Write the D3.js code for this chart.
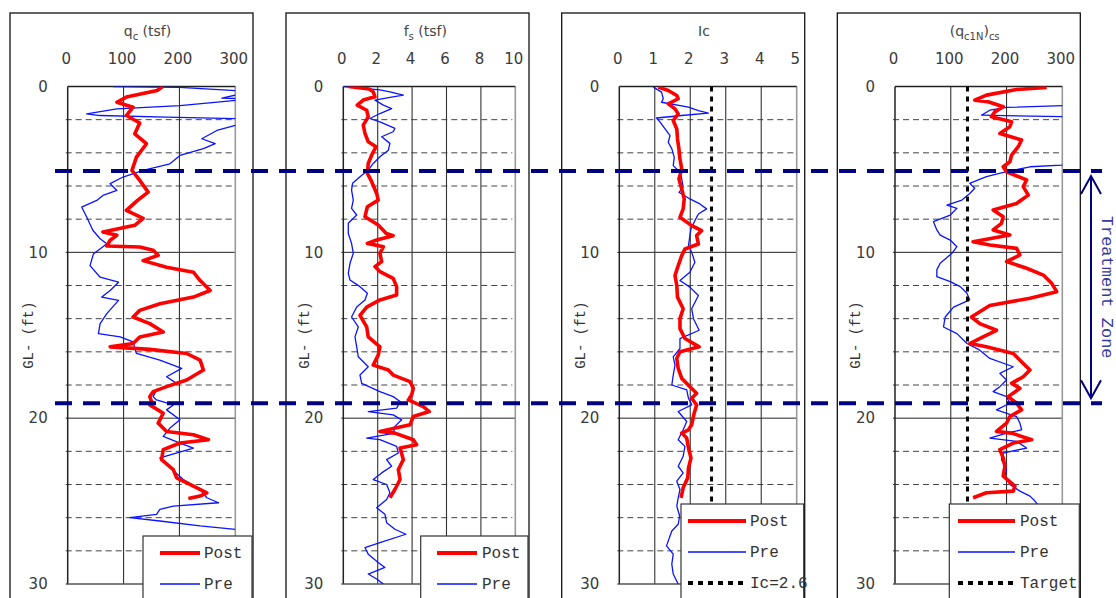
<!DOCTYPE html>
<html>
<head>
<meta charset="utf-8">
<script src="https://cdn.jsdelivr.net/npm/d3@7"></script>
<style>
  body { margin: 0; background: #fff; }
  svg { display: block; }
  .tick text { font-family: "DejaVu Sans", Verdana, sans-serif; font-size: 15px; fill: #3a3a3a; }
  .mono { font-family: "Liberation Mono", "DejaVu Sans Mono", monospace; }
</style>
</head>
<body>
<svg width="1116" height="598"></svg>
<script>
// depth ticks (ft)
const depthTicks = [0, 10, 20, 30];
const minorDepths = [2, 4, 6, 8, 12, 14, 16, 18, 22, 24, 26, 28];

// x tick labels for each panel
const qcTicks = [0, 100, 200, 300];
const fsTicks = [0, 2, 4, 6, 8, 10];
const icTicks = [0, 1, 2, 3, 4, 5];
const qc1nTicks = [0, 100, 200, 300];

// treatment zone (ft) and reference lines
const treatmentZone = [5.1, 19.1];
const icLimit = 2.6;
const targetQc1n = 130;

// [depth (ft), value]
const qcPost = [[0,170],[0.24,160],[0.64,105],[0.95,88],[1.25,117],[1.75,105],[2.2,129],[2.85,120],[3.45,141],[4.26,123],[5.06,115],[5.66,129],[6.37,144],[6.87,125],[7.47,105],[7.95,135],[8.37,120],[8.77,63],[8.97,88],[9.27,76],[9.62,70],[9.68,129],[9.88,153],[10.18,162],[10.5,135],[10.9,177],[11.2,225],[11.7,237],[12.3,255],[12.7,225],[13.1,165],[13.5,129],[13.9,117],[14.3,147],[14.8,171],[15.1,129],[15.5,117],[15.7,76],[15.85,147],[16.1,213],[16.5,237],[17.1,243],[17.7,213],[18.1,177],[18.4,153],[18.7,147],[19.0,150],[19.2,147],[19.7,171],[20.3,162],[20.8,177],[21.0,225],[21.3,252],[21.5,201],[21.9,171],[22.5,168],[23.1,189],[23.6,195],[24.1,225],[24.5,249],[24.7,237],[24.85,216]];
const qcPre = [[0,81],[0.05,200],[0.3,330],[0.7,276],[0.75,330],[1.15,201],[1.35,88],[1.65,34],[1.75,58],[1.85,177],[1.95,330],[2.35,300],[2.65,267],[3.15,240],[3.45,264],[3.75,243],[4.16,201],[4.66,183],[5.06,135],[5.46,99],[5.86,76],[6.27,88],[6.57,63],[6.87,52],[7.27,25],[7.87,34],[8.67,45],[9.18,58],[9.48,70],[10.1,46],[10.8,40],[11.5,58],[11.8,91],[12.3,76],[12.7,61],[12.9,91],[13.7,70],[14.3,58],[14.9,55],[15.1,94],[15.4,117],[16.1,123],[16.5,165],[17.0,204],[17.5,177],[17.9,195],[18.3,159],[18.7,153],[18.9,159],[19.2,189],[19.5,177],[20.1,201],[20.6,183],[21.1,171],[21.5,201],[21.8,225],[22.4,165],[22.9,180],[23.7,207],[24.3,237],[24.8,249],[25.1,270],[25.3,189],[25.5,165],[25.8,159],[26.0,111],[26.2,165],[26.5,237],[26.7,300]];

const fsPost = [[0,0.3],[0.15,1.5],[0.32,1.74],[0.62,1.84],[0.82,1.16],[1.12,0.81],[1.43,1.36],[1.83,1.45],[2.33,1.16],[2.83,1.26],[3.33,1.45],[3.63,1.9],[4.14,1.65],[4.64,1.45],[5.24,1.4],[5.74,1.65],[6.45,1.94],[6.85,2.03],[7.25,1.4],[7.85,1.26],[8.35,2.03],[8.86,2.5],[9.0,2.9],[9.26,1.94],[9.46,1.4],[9.66,2.33],[10.06,2.13],[10.56,2.23],[10.86,1.84],[11.16,2.13],[11.57,2.9],[12.07,3.1],[12.57,3.1],[12.87,2.13],[13.3,1.36],[13.8,0.97],[14.5,1.36],[15.1,1.45],[15.7,2.13],[16.2,2.03],[16.8,1.74],[17.1,2.62],[17.4,2.9],[17.8,3.88],[18.2,4.07],[18.6,3.97],[18.9,3.78],[19.3,4.65],[19.6,5.0],[19.9,4.07],[20.4,3.88],[20.8,2.13],[20.9,3.0],[21.3,4.07],[21.6,4.26],[21.8,3.3],[22.5,3.49],[23.1,3.2],[23.7,3.3],[24.3,3.0],[24.8,2.71]];
const fsPre = [[0,0.04],[0.2,2.13],[0.32,2.71],[0.52,3.49],[0.66,2.71],[0.82,1.84],[1.12,2.33],[1.33,2.81],[1.63,2.13],[1.93,1.55],[2.13,2.13],[2.53,3.0],[2.73,2.9],[3.03,2.23],[3.43,2.71],[3.84,2.62],[4.24,2.13],[4.64,1.74],[5.04,1.45],[5.44,0.97],[5.84,0.54],[6.24,0.48],[6.85,0.58],[7.35,0.48],[7.75,0.78],[8.25,0.29],[8.86,0.29],[9.46,0.48],[10.06,0.58],[10.66,0.39],[11.27,0.29],[11.67,0.39],[12.07,0.97],[12.47,1.4],[12.87,1.26],[13.3,0.78],[13.9,0.48],[14.5,0.87],[15.1,0.68],[15.7,0.78],[16.3,0.87],[16.9,1.45],[17.4,0.97],[17.9,1.07],[18.4,2.13],[18.7,2.9],[19.0,3.3],[19.4,3.1],[19.6,1.45],[19.8,2.9],[20.1,3.39],[20.6,2.9],[20.9,3.0],[21.2,1.36],[21.3,2.13],[21.7,3.1],[22.1,3.2],[22.5,2.52],[22.9,2.81],[23.3,2.23],[23.7,1.74],[24.0,2.52],[24.5,2.71],[24.9,2.52],[25.4,1.94],[25.8,2.42],[26.3,2.52],[26.7,3.0],[27.0,3.64],[27.5,2.13],[27.8,1.26],[28.2,1.45],[28.7,2.03],[29.0,2.42],[29.4,1.45],[29.7,1.94],[30,2.33]];

const icPost = [[0.04,1.1],[0.24,1.38],[0.54,1.62],[0.74,1.66],[1.05,1.38],[1.35,1.57],[1.65,1.66],[2.05,1.52],[2.56,1.62],[3.16,1.64],[3.76,1.68],[4.37,1.71],[4.97,1.76],[5.57,1.68],[6.18,1.76],[6.78,1.83],[7.38,1.8],[7.89,1.71],[8.39,2.04],[8.69,2.32],[8.99,2.18],[9.5,2.23],[9.8,1.85],[10.2,1.76],[10.8,1.66],[11.4,1.57],[12.0,1.62],[12.7,1.64],[13.4,1.8],[14.0,1.71],[14.6,1.71],[15.2,1.85],[15.7,2.25],[16.0,1.71],[16.4,1.62],[17.0,1.66],[17.6,1.76],[18.1,1.99],[18.5,2.18],[18.8,2.04],[19.2,2.18],[19.7,2.11],[20.4,2.04],[20.7,1.95],[20.9,1.76],[21.2,1.9],[21.8,1.95],[22.4,2.02],[23.0,1.95],[23.6,1.93],[24.2,1.8],[24.8,1.74]];
const icPre = [[0.04,0.96],[0.34,1.19],[0.74,1.24],[0.95,1.19],[1.25,1.95],[1.45,2.23],[1.6,2.51],[1.75,1.76],[1.9,1.05],[2.15,1.15],[2.56,1.29],[2.96,1.43],[3.36,1.38],[3.76,1.48],[4.27,1.55],[4.77,1.52],[5.17,1.71],[5.57,1.76],[6.08,1.8],[6.38,1.68],[6.78,1.99],[7.08,2.27],[7.38,2.46],[7.69,2.23],[8.09,2.13],[8.59,2.02],[8.99,1.99],[9.6,1.95],[10.0,2.04],[10.6,2.13],[11.2,1.99],[11.7,1.71],[12.1,1.99],[12.6,2.23],[13.4,2.04],[14.0,2.09],[14.7,2.25],[15.2,1.71],[15.8,1.71],[16.3,1.52],[16.8,1.57],[17.4,1.52],[18.0,1.48],[18.3,1.9],[18.8,1.95],[19.2,2.04],[19.6,1.66],[20.2,1.9],[20.7,1.8],[21.3,1.66],[21.7,1.85],[22.3,1.8],[22.9,1.66],[23.3,1.8],[23.8,1.62],[24.3,1.71],[24.8,1.66],[25.3,1.62],[25.9,1.7],[26.4,1.66],[26.8,1.48],[27.7,1.33],[28.2,1.52],[28.8,1.48],[29.4,1.52],[30,1.66]];

const qc1nPost = [[0.06,272],[0.18,218],[0.52,164],[0.82,143],[0.92,167],[1.22,194],[1.53,179],[1.83,173],[2.13,209],[2.43,206],[2.83,188],[3.23,227],[3.63,221],[4.14,209],[4.54,206],[4.84,194],[5.14,200],[5.64,236],[6.04,230],[6.55,239],[7.05,218],[7.45,176],[7.85,194],[8.25,191],[8.65,176],[8.96,206],[9.36,140],[9.56,170],[9.76,218],[10.16,224],[10.56,200],[10.96,236],[11.37,266],[11.87,281],[12.37,290],[12.77,242],[13.2,170],[13.9,137],[14.3,152],[14.7,182],[15.1,158],[15.5,134],[15.7,164],[16.1,212],[16.7,230],[17.1,242],[17.5,230],[17.9,209],[18.2,224],[18.7,203],[19.1,218],[19.5,227],[19.9,206],[20.3,200],[20.8,182],[20.9,209],[21.3,245],[21.5,212],[21.9,188],[22.4,194],[22.9,197],[23.5,194],[24.1,215],[24.4,212],[24.5,164],[24.8,140]];
const qc1nPre = [[0,330],[1.12,330],[1.26,200],[1.43,170],[1.73,155],[1.83,330],[4.4,330],[4.74,299],[4.84,242],[5.14,200],[5.44,164],[5.84,134],[6.14,143],[6.45,134],[6.85,120],[7.15,93],[7.35,111],[7.75,99],[8.15,69],[8.65,75],[8.96,81],[9.26,99],[9.66,111],[10.06,102],[10.66,81],[11.06,75],[11.47,75],[11.77,99],[12.07,117],[12.47,129],[12.87,134],[13.3,105],[13.9,90],[14.5,87],[14.9,111],[15.5,129],[15.9,152],[16.4,170],[16.9,212],[17.3,188],[17.7,200],[18.1,188],[18.4,176],[18.7,200],[19.1,206],[19.5,182],[19.9,218],[20.3,224],[20.7,227],[20.9,200],[21.2,170],[21.4,218],[21.8,236],[22.1,194],[22.5,191],[23.1,200],[23.5,197],[24.0,206],[24.4,224],[24.7,242],[25.0,251],[25.3,258]];

const svg = d3.select("svg");
const plotTop = 86.5;
const plotBottom = 584;
const frameTop = 13;
const frameWidth = 243;

const yScale = d3.scaleLinear().domain([0, 30]).range([plotTop, plotBottom]);

const panels = [
  {
    frameX: 10, plotX: 67.7, plotW: 167.6, domain: [0, 300], ticks: qcTicks,
    title: [["q", false], ["c", true], [" (tsf)", false]],
    post: qcPost, pre: qcPre,
    legend: { x: 143, y: 536, l0: 160, l1: 200, tx: 204 },
  },
  {
    frameX: 286, plotX: 343.3, plotW: 172, domain: [0, 10], ticks: fsTicks,
    title: [["f", false], ["s", true], [" (tsf)", false]],
    post: fsPost, pre: fsPre,
    legend: { x: 420.7, y: 536, l0: 437, l1: 477, tx: 482 },
  },
  {
    frameX: 561.7, plotX: 619.3, plotW: 177.4, domain: [0, 5], ticks: icTicks,
    title: [["Ic", false]],
    post: icPost, pre: icPre, refValue: icLimit, refLabel: "Ic=2.6",
    legend: { x: 681, y: 504, l0: 688, l1: 746, tx: 750 },
  },
  {
    frameX: 837.3, plotX: 895, plotW: 167.3, domain: [0, 300], ticks: qc1nTicks,
    title: [["(q", false], ["c1N", true], [")", false], ["cs", true]],
    post: qc1nPost, pre: qc1nPre, refValue: targetQc1n, refLabel: "Target",
    legend: { x: 949.3, y: 504, l0: 958, l1: 1015, tx: 1020 },
  },
];

function drawPanel(panel, index)
{
  const g = svg.append("g");
  const x = d3.scaleLinear()
    .domain(panel.domain)
    .range([panel.plotX, panel.plotX + panel.plotW]);
  const right = panel.plotX + panel.plotW;

  // outer chart frame
  g.append("rect")
    .attr("x", panel.frameX)
    .attr("y", frameTop)
    .attr("width", frameWidth)
    .attr("height", 700)
    .attr("fill", "#fff")
    .attr("stroke", "#111")
    .attr("stroke-width", 1.3);

  // title with subscripts
  const title = g.append("text")
    .attr("x", panel.plotX + panel.plotW / 2 - 4)
    .attr("y", 36)
    .attr("text-anchor", "middle")
    .attr("font-family", "DejaVu Sans, sans-serif")
    .attr("font-size", 14)
    .attr("fill", "#444");
  let shifted = false;
  panel.title.forEach(([txt, sub]) =>
  {
    const t = title.append("tspan").text(txt);
    if (sub && !shifted)
    {
      t.attr("font-size", 10).attr("dy", 4);
      shifted = true;
    } else if (!sub && shifted)
    {
      t.attr("dy", -4);
      shifted = false;
    } else if (sub)
    {
      t.attr("font-size", 10);
    }
  });

  // minor dashed depth lines
  g.selectAll(".minor")
    .data(minorDepths)
    .join("line")
    .attr("x1", panel.plotX - 2)
    .attr("x2", right - 3)
    .attr("y1", (d) => yScale(d))
    .attr("y2", (d) => yScale(d))
    .attr("stroke", "#444")
    .attr("stroke-width", 1)
    .attr("stroke-dasharray", "6,4");

  // solid depth lines
  g.selectAll(".major")
    .data([10, 20])
    .join("line")
    .attr("x1", panel.plotX - 2)
    .attr("x2", right)
    .attr("y1", (d) => yScale(d))
    .attr("y2", (d) => yScale(d))
    .attr("stroke", "#222")
    .attr("stroke-width", 1);

  // vertical grid
  g.selectAll(".vgrid")
    .data(panel.ticks.slice(1))
    .join("line")
    .attr("x1", (d) => x(d))
    .attr("x2", (d) => x(d))
    .attr("y1", plotTop)
    .attr("y2", plotBottom)
    .attr("stroke", (d, i, n) => (i === n.length - 1 ? "#999" : "#333"))
    .attr("stroke-width", (d, i, n) => (i === n.length - 1 ? 1.6 : 1.1));

  // plot borders
  g.append("line").attr("x1", panel.plotX).attr("x2", panel.plotX)
    .attr("y1", plotTop).attr("y2", plotBottom)
    .attr("stroke", "#222").attr("stroke-width", 1.5);
  g.append("line").attr("x1", panel.plotX).attr("x2", right)
    .attr("y1", plotTop).attr("y2", plotTop)
    .attr("stroke", "#222").attr("stroke-width", 1.5);
  g.append("line").attr("x1", panel.plotX - 2).attr("x2", right)
    .attr("y1", plotBottom).attr("y2", plotBottom)
    .attr("stroke", "#555").attr("stroke-width", 1.6);

  // axes labels
  const topAxis = g.append("g")
    .attr("transform", `translate(-2, ${ plotTop })`)
    .call(d3.axisTop(x).tickValues(panel.ticks).tickFormat(d3.format("d")).tickSize(0).tickPadding(23));
  topAxis.select(".domain").remove();

  const leftAxis = g.append("g")
    .attr("transform", `translate(${ panel.plotX }, 0)`)
    .call(d3.axisLeft(yScale).tickValues(depthTicks).tickSize(0).tickPadding(20));
  leftAxis.select(".domain").remove();

  g.append("text")
    .attr("class", "mono")
    .attr("transform", `translate(${ panel.frameX + 23 }, ${ (plotTop + plotBottom) / 2 }) rotate(-90)`)
    .attr("text-anchor", "middle")
    .attr("font-size", 14)
    .attr("fill", "#333")
    .text("GL- (ft)");

  // curves
  const clipId = `clip-${ index }`;
  g.append("clipPath")
    .attr("id", clipId)
    .append("rect")
    .attr("x", panel.plotX)
    .attr("y", plotTop)
    .attr("width", panel.plotW)
    .attr("height", plotBottom - plotTop);

  const lineGenerator = d3.line()
    .x((d) => x(d[1]))
    .y((d) => yScale(d[0]));

  const curves = g.append("g").attr("clip-path", `url(#${ clipId })`);
  curves.append("path")
    .attr("d", lineGenerator(panel.pre))
    .attr("fill", "none")
    .attr("stroke", "#0a14ff")
    .attr("stroke-width", 1.3)
    .attr("stroke-linejoin", "round");
  curves.append("path")
    .attr("d", lineGenerator(panel.post))
    .attr("fill", "none")
    .attr("stroke", "#ff0000")
    .attr("stroke-width", 3.6)
    .attr("stroke-linejoin", "round");

  if (panel.refValue !== undefined)
  {
    curves.append("line")
      .attr("x1", x(panel.refValue))
      .attr("x2", x(panel.refValue))
      .attr("y1", plotTop)
      .attr("y2", plotBottom)
      .attr("stroke", "#000")
      .attr("stroke-width", 3)
      .attr("stroke-dasharray", "5,5");
  }

  // legend
  const lg = panel.legend;
  const legend = g.append("g");
  legend.append("rect")
    .attr("x", lg.x)
    .attr("y", lg.y)
    .attr("width", panel.frameX + frameWidth - 1 - lg.x)
    .attr("height", 200)
    .attr("fill", "#fff")
    .attr("stroke", "#333")
    .attr("stroke-width", 1.2);

  const entries = [
    { label: "Post", color: "#ff0000", width: 4, dash: null },
    { label: "Pre", color: "#0a14ff", width: 1.5, dash: null },
  ];
  if (panel.refLabel)
  {
    entries.push({ label: panel.refLabel, color: "#000", width: 4, dash: "5,5" });
  }
  entries.forEach((e, i) =>
  {
    const ey = lg.y + 17 + i * 31;
    legend.append("line")
      .attr("x1", lg.l0)
      .attr("x2", lg.l1)
      .attr("y1", ey)
      .attr("y2", ey)
      .attr("stroke", e.color)
      .attr("stroke-width", e.width)
      .attr("stroke-dasharray", e.dash);
    legend.append("text")
      .attr("class", "mono")
      .attr("x", lg.tx)
      .attr("y", ey + 5)
      .attr("font-size", 16)
      .attr("fill", "#333")
      .text(e.label);
  });
}

panels.forEach((p, i) => drawPanel(p, i));

// treatment zone boundaries
svg.selectAll(".zone")
  .data(treatmentZone)
  .join("line")
  .attr("x1", 55)
  .attr("x2", 1102)
  .attr("y1", (d) => yScale(d))
  .attr("y2", (d) => yScale(d))
  .attr("stroke", "#000080")
  .attr("stroke-width", 4)
  .attr("stroke-dasharray", "17,11");

const arrowX = 1091;
const arrowTop = yScale(treatmentZone[0]) + 5;
const arrowBottom = yScale(treatmentZone[1]) - 5;
svg.append("line")
  .attr("x1", arrowX).attr("x2", arrowX)
  .attr("y1", arrowTop).attr("y2", arrowBottom)
  .attr("stroke", "#000080").attr("stroke-width", 2);
svg.append("polyline")
  .attr("points", `${ arrowX - 10 },${ arrowTop + 18 } ${ arrowX },${ arrowTop } ${ arrowX + 10 },${ arrowTop + 18 }`)
  .attr("fill", "none").attr("stroke", "#000080").attr("stroke-width", 2);
svg.append("polyline")
  .attr("points", `${ arrowX - 10 },${ arrowBottom - 18 } ${ arrowX },${ arrowBottom } ${ arrowX + 10 },${ arrowBottom - 18 }`)
  .attr("fill", "none").attr("stroke", "#000080").attr("stroke-width", 2);

svg.append("text")
  .attr("class", "mono")
  .attr("transform", `translate(1102, ${ (arrowTop + arrowBottom) / 2 }) rotate(90)`)
  .attr("text-anchor", "middle")
  .attr("font-size", 17)
  .attr("fill", "#3a3a9a")
  .text("Treatment Zone");
</script>
</body>
</html>
